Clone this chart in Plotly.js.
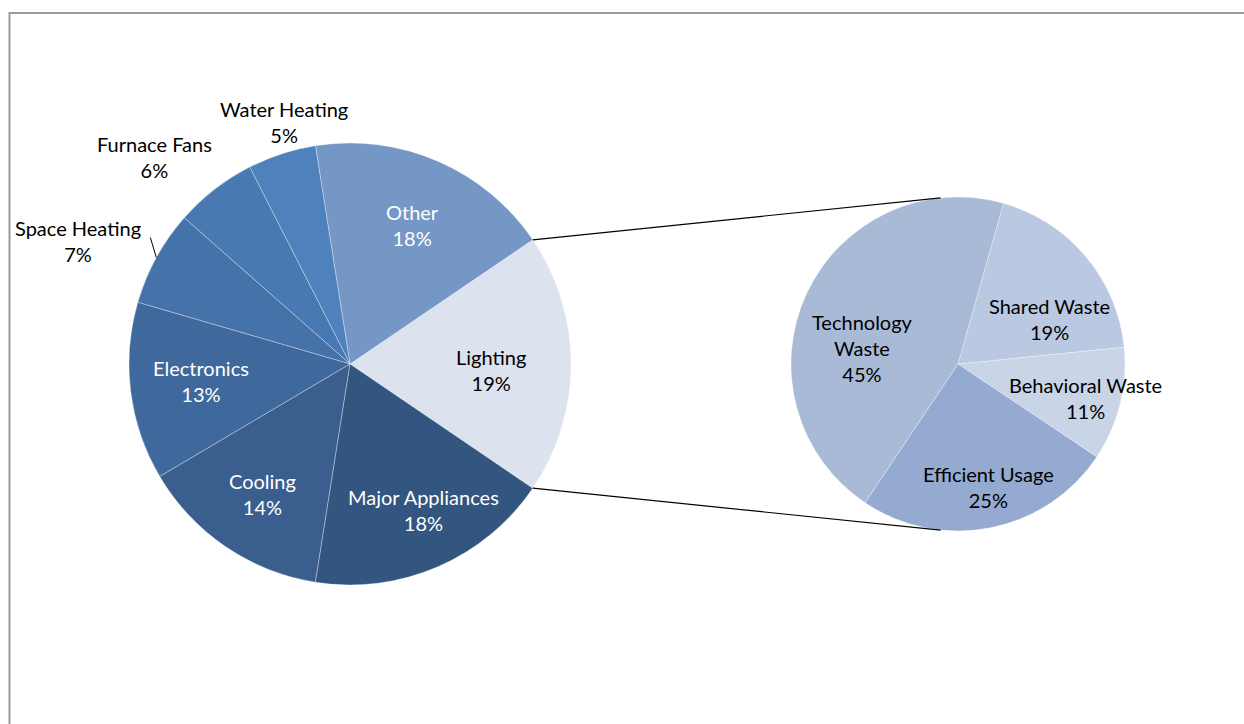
<!DOCTYPE html>
<html>
<head>
<meta charset="utf-8">
<script src="https://cdn.plot.ly/plotly-3.0.1.min.js"></script>
<style>
  html, body { margin: 0; padding: 0; background: #ffffff; }
  #chart { width: 1244px; height: 724px; }
</style>
</head>
<body>
<div id="chart"></div>
<script>
// ---- data ----
const mainLabels = ["Lighting", "Other", "Water Heating", "Furnace Fans", "Space Heating", "Electronics", "Cooling", "Major Appliances"];
const mainValues = [19, 18, 5, 6, 7, 13, 14, 18];
const mainColors = ["#DCE2EE", "#7597C5", "#4F81BD", "#4879B3", "#4572A8", "#3F699C", "#3A5F8E", "#32567F"];

const subLabels = ["Behavioral Waste", "Shared Waste", "Technology Waste", "Efficient Usage"];
const subText = ["Behavioral Waste", "Shared Waste", "Technology<br>Waste", "Efficient Usage"];
const subValues = [11, 19, 45, 25];
const subColors = ["#CAD4E7", "#BAC8E1", "#A9BAD7", "#94AAD0"];

// ---- layout geometry (pixels) ----
const W = 1244, H = 724;
const mainC = [350, 364], mainR = 221;
const subC = [958, 364], subR = 167;

// label placement (style): radius as fraction of pie radius, angle nudge in degrees
const mainLabelRadius = [0.64, 0.69, 1.135, 1.29, 1.35, 0.68, 0.71, 0.74];
const mainLabelNudge = [2.4, 0.6, 2.7, -5.5, -4.4, 0.7, -0.2, -3.2];
const mainLabelColor = ["#000000", "#FFFFFF", "#000000", "#000000", "#000000", "#FFFFFF", "#FFFFFF", "#FFFFFF"];
const subLabelRadius = [0.79, 0.61, 0.58, 0.76];
const subLabelNudge = [1, 13.7, -15.2, -2.5];

function dom(c, r) {
  return {
    x: [(c[0] - r) / W, (c[0] + r) / W],
    y: [1 - (c[1] + r) / H, 1 - (c[1] - r) / H]
  };
}
const px = v => v / W, py = v => 1 - v / H;
const rad = d => d * Math.PI / 180;

const mainTotal = mainValues.reduce((a, b) => a + b, 0);
const lightHalf = mainValues[0] / mainTotal * 180;
// plotly (counterclockwise): first slice spans [rotation + angle1 -> rotation]
const mainRotation = 90 - lightHalf;

const subTotal = subValues.reduce((a, b) => a + b, 0);
const subStart = 123.8; // clockwise-from-top angle where the first slice begins
const subRotation = subStart - subValues[0] / subTotal * 360;

// mid angles (clockwise from 12 o'clock), slices run counterclockwise
function midAngles(values, total, start) {
  let cur = start, out = [];
  values.forEach(v => {
    const span = v / total * 360;
    out.push(cur - span / 2);
    cur -= span;
  });
  return out;
}
const mainMid = midAngles(mainValues, mainTotal, 90 + lightHalf);
const subMid = midAngles(subValues, subTotal, subStart);

const fontFam = "Lato, 'Open Sans', sans-serif";
const FS = 20;

const traces = [
  {
    type: "pie",
    labels: mainLabels,
    values: mainValues,
    sort: false,
    direction: "counterclockwise",
    rotation: mainRotation,
    domain: dom(mainC, mainR),
    marker: { colors: mainColors, line: { color: "rgba(255,255,255,0.55)", width: 0.6 } },
    textinfo: "none",
    showlegend: false,
    hoverinfo: "label+percent"
  },
  {
    type: "pie",
    labels: subLabels,
    values: subValues,
    sort: false,
    direction: "counterclockwise",
    rotation: subRotation,
    domain: dom(subC, subR),
    marker: { colors: subColors, line: { color: "rgba(255,255,255,0.55)", width: 0.6 } },
    textinfo: "none",
    showlegend: false,
    hoverinfo: "label+percent"
  }
];

const annotations = [];
function pct(v, t) { return Math.round(v / t * 100) + "%"; }
mainLabels.forEach((l, i) => {
  const a = rad(mainMid[i] + mainLabelNudge[i]);
  const d = mainLabelRadius[i] * mainR;
  annotations.push({
    xref: "paper", yref: "paper",
    x: px(mainC[0] + d * Math.sin(a)), y: py(mainC[1] - d * Math.cos(a)),
    text: l + "<br>" + pct(mainValues[i], mainTotal),
    showarrow: false, xanchor: "center", yanchor: "middle", align: "center",
    font: { family: fontFam, size: FS, color: mainLabelColor[i] }
  });
});
subLabels.forEach((l, i) => {
  const a = rad(subMid[i] + subLabelNudge[i]);
  const d = subLabelRadius[i] * subR;
  annotations.push({
    xref: "paper", yref: "paper",
    x: px(subC[0] + d * Math.sin(a)), y: py(subC[1] - d * Math.cos(a)),
    text: subText[i] + "<br>" + pct(subValues[i], subTotal),
    showarrow: false, xanchor: "center", yanchor: "middle", align: "center",
    font: { family: fontFam, size: FS, color: "#000000" }
  });
});

// connector lines from main pie (Lighting edges) to the secondary pie
const a1 = rad(lightHalf);
const p1 = [mainC[0] + mainR * Math.cos(a1), mainC[1] - mainR * Math.sin(a1)];
const p2 = [mainC[0] + mainR * Math.cos(a1), mainC[1] + mainR * Math.sin(a1)];
const a2 = rad(96);
const q1 = [subC[0] + subR * Math.cos(a2), subC[1] - subR * Math.sin(a2)];
const q2 = [subC[0] + subR * Math.cos(a2), subC[1] + subR * Math.sin(a2)];

// leader line for Space Heating
const sh = mainLabels.indexOf("Space Heating");
const shA = rad(mainMid[sh]);
const e0 = [mainC[0] + mainR * Math.sin(shA), mainC[1] - mainR * Math.cos(shA)];
const e1 = [e0[0] - 6, e0[1] - 20];

const shapes = [
  { type: "line", xref: "paper", yref: "paper", x0: px(p1[0]), y0: py(p1[1]), x1: px(q1[0]), y1: py(q1[1]), line: { color: "#000000", width: 1.2 } },
  { type: "line", xref: "paper", yref: "paper", x0: px(p2[0]), y0: py(p2[1]), x1: px(q2[0]), y1: py(q2[1]), line: { color: "#000000", width: 1.2 } },
  { type: "line", xref: "paper", yref: "paper", x0: px(e0[0]), y0: py(e0[1]), x1: px(e1[0]), y1: py(e1[1]), line: { color: "#000000", width: 1 } },
  { type: "rect", xref: "paper", yref: "paper", x0: px(9.5), y0: py(760), x1: px(1300), y1: py(13), line: { color: "#9A9A9A", width: 2 }, fillcolor: "rgba(0,0,0,0)" }
];

const layout = {
  width: W, height: H,
  margin: { l: 0, r: 0, t: 0, b: 0 },
  paper_bgcolor: "#FFFFFF",
  plot_bgcolor: "#FFFFFF",
  font: { family: fontFam, size: FS, color: "#000000" },
  shapes: shapes,
  annotations: annotations,
  showlegend: false
};

Plotly.newPlot("chart", traces, layout, { displayModeBar: false, staticPlot: true });
</script>
</body>
</html>
